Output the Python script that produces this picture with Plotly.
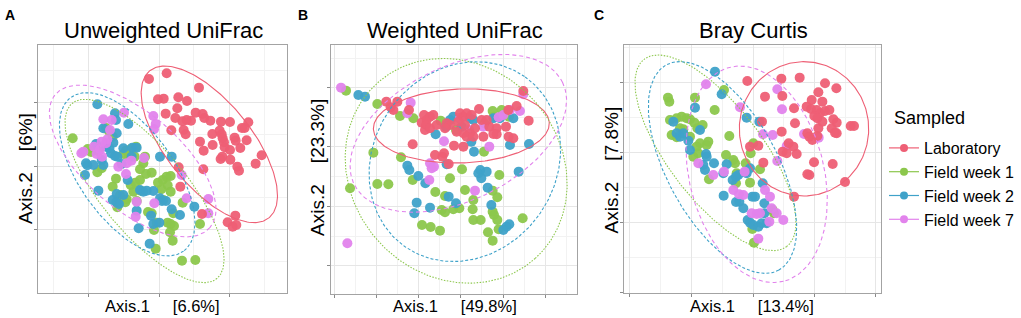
import numpy as np
import plotly.graph_objects as go

# ---------------- data (PCoA scores, panel units) ----------------
groups = ["Laboratory", "Field week 1", "Field week 2", "Field week 7"]
colors = ["#EE5F75", "#8CC74C", "#3FA2C9", "#E283EC"]
dashes = ["solid", "1.5px,1.5px", "3px,2px", "4px,3px"]

# Panel A: Unweighted UniFrac
uw_lab_x = [447,500,597,474,491,535,561,532,497,526,587,547,560,573,608,613,631,663,690,745,734,726,514,551,557,600,637,659,665,668,672,638,611,674,690,704,707,740,721,667,662,691,785,767,712,717,610,536,541,606,706,683,698,709]
uw_lab_y = [237,220,263,298,296,292,303,325,341,354,338,364,360,362,342,354,362,365,366,367,384,384,391,390,403,425,402,392,403,415,427,435,452,442,450,413,422,421,444,470,477,479,466,491,500,512,508,502,560,642,647,667,680,675]
uw_fw1_x = [218,263,273,292,318,327,338,378,392,408,370,386,435,438,430,404,406,420,422,400,380,360,474,488,500,512,503,512,484,548,444,455,470,462,503,512,522,510,518,467,546,586,600,338,348,420,455,392,295,305,376,352,410,520,490]
uw_fw1_y = [415,447,456,517,384,394,410,452,447,440,462,470,470,522,490,470,548,540,572,575,598,585,548,540,530,528,556,575,568,608,636,640,668,690,668,672,678,697,722,746,782,780,672,560,536,508,518,555,454,505,607,622,603,640,600]
uw_fw2_x = [292,345,348,385,310,350,340,288,318,333,345,370,397,258,262,255,310,352,410,383,420,430,480,515,295,338,349,357,350,370,395,480,486,410,453,460,478,416,449,540,583,515,498,440,460,280,305,328,365]
uw_fw2_y = [313,340,360,372,385,400,428,432,440,460,468,445,443,490,496,525,495,470,443,540,570,575,470,470,572,600,606,612,582,585,470,595,603,632,647,672,668,685,731,645,620,628,603,572,573,495,480,445,492]
uw_fw7_x = [335,460,310,318,322,244,290,306,380,378,432,355,250,282,300,330,410,407,463,545,560,625,625,467,462,394,305,372]
uw_fw7_y = [360,348,358,430,418,460,462,470,490,522,474,500,455,440,448,390,605,650,610,525,595,597,640,372,388,482,425,338]

# Panel B: Weighted UniFrac
wu_lab_x = [700,289,322,302,310,357,402,410,420,430,395,408,405,420,470,480,510,520,530,505,525,520,540,530,567,575,580,555,598,620,620,648,655,680,716,656,670,368,492,520,457,462,435,476,550,500,440,465,545,610,590]
wu_lab_y = [273,305,305,322,330,330,345,360,350,345,368,375,390,385,370,375,340,350,340,365,375,400,400,410,327,360,410,385,380,385,403,380,330,318,362,410,415,433,437,440,470,460,465,492,410,395,375,385,345,402,360]
wu_fw1_x = [168,262,330,370,452,498,508,608,635,657,250,333,180,262,295,368,436,465,480,516,525,550,548,582,628,608,622,455,465,490,508,550,572,608,612,622,396,422,450,594,608,626,698,583,612]
wu_fw1_y = [272,312,348,355,362,390,355,333,330,350,458,472,565,552,553,540,576,588,535,508,570,600,628,455,525,572,592,630,637,628,625,660,660,635,645,660,675,681,692,697,722,688,655,370,350]
wu_fw2_x = [205,225,352,358,385,406,380,373,420,470,476,498,437,490,515,544,552,571,574,565,590,593,604,650,658,640,686,660,717,670,610,630,540,550,480,468]
wu_fw2_y = [285,290,497,510,528,550,608,640,623,493,590,610,403,350,380,425,455,510,535,520,515,563,615,680,673,690,515,435,432,355,355,355,355,360,360,380]
wu_fw7_x = [153,362,352,420,432,425,462,598,626,640,690,700,418,555,172,538,580,510,660]
wu_fw7_y = [263,308,340,490,500,505,424,440,352,345,333,283,540,572,730,390,380,355,330]

# Panel C: Bray Curtis
bc_lab_x = [502,604,659,735,769,555,607,695,715,727,693,710,720,735,748,703,712,760,770,812,822,546,605,645,642,682,688,697,712,755,765,770,626,640,608,620,650,510,535,550,702,758,682,688,795,642,727,715,680]
bc_lab_y = [243,236,233,250,265,290,288,300,277,305,327,330,340,333,330,348,355,358,368,378,378,365,395,370,325,400,410,420,408,385,398,400,430,440,455,460,462,440,437,488,487,492,523,525,546,590,365,385,320]
bc_fw1_x = [432,264,268,345,404,270,290,305,320,330,343,352,368,310,290,275,330,360,350,380,448,438,460,465,497,540,520,512,387,468,510,582,578,517,522,340,355,300,385,470]
bc_fw1_y = [270,293,305,293,330,360,355,350,355,358,368,385,375,388,412,405,410,430,440,435,408,465,480,490,490,508,430,460,538,550,548,640,630,687,728,470,460,385,425,520]
bc_fw2_x = [405,425,345,500,538,280,290,300,310,325,330,378,380,402,370,375,430,440,458,468,475,497,500,510,431,468,478,490,517,525,548,553,503,510,520,535,545,560,553,360]
bc_fw2_y = [215,283,323,353,365,365,400,410,400,422,450,462,470,490,495,510,520,493,540,530,525,515,520,505,587,606,605,625,590,590,550,610,660,668,675,680,670,670,640,390]
bc_fw7_x = [378,592,606,480,549,578,672,716,620,592,400,355,432,494,460,477,490,515,530,540,555,570,575,568,610,535,590]
bc_fw7_y = [253,268,328,322,403,405,402,413,438,483,525,490,515,515,570,583,585,640,642,640,570,590,625,665,660,716,640]

# Ellipses per group (centre x, centre y, semi-axis a, semi-axis b, angle deg), group order
uw_ellipses = [(628, 433, 284, 128, 51), (433.5, 573, 341, 128, 50.4), (381.5, 523, 286, 140, 53.7), (398, 483, 306, 144, 40.8)]
wu_ellipses = [(514, 378, 264, 111, -2), (498.5, 512.5, 354, 315, 48), (524.5, 485, 312, 274, -54.5), (505, 400, 348, 201, -26.1)]
bc_ellipses = [(672, 386.5, 201.5, 194, 90), (406.5, 458.5, 353, 141, 52.7), (427.5, 502.5, 351, 165, 61.2), (530, 523, 331, 202, 75.9)]

titles = ["Unweighted UniFrac", "Weighted UniFrac", "Bray Curtis"]
letters = ["A", "B", "C"]
xlabels = ["Axis.1 [6.6%]", "Axis.1 [49.8%]", "Axis.1 [13.4%]"]
ylabels = ["Axis.2 [6%]", "Axis.2 [23.3%]", "Axis.2 [7.8%]"]
legend_title = "Sampled"

# ---------------- layout geometry ----------------
W, H = 1021, 318
FONT = "Liberation Sans, Arial, sans-serif"
def fx(px):
    return px / W
def fy(py):
    return 1 - py / H

panels = [
    dict(frame=(37.7, 287.3, 45.0, 293.3), xr=[113, 862], yr=[880, 135],
         xt=[265, 477, 688], xm=[159, 371, 582, 794], yt=[307, 499, 690], ym=[212, 403, 594, 786],
         data=[(uw_lab_x, uw_lab_y), (uw_fw1_x, uw_fw1_y), (uw_fw2_x, uw_fw2_y), (uw_fw7_x, uw_fw7_y)],
         ell=uw_ellipses, letter_x=10, xlab_x=162, ylab_x=25.5, ylab_y=168.5),
    dict(frame=(330.7, 577.3, 45.0, 294.3), xr=[122, 862], yr=[883, 135],
         xt=[133, 258, 385, 512, 640, 767], xm=[195, 322, 448, 576, 703, 830], yt=[263, 441, 620, 798], ym=[174, 352, 530, 709],
         data=[(wu_lab_x, wu_lab_y), (wu_fw1_x, wu_fw1_y), (wu_fw2_x, wu_fw2_y), (wu_fw7_x, wu_fw7_y)],
         ell=wu_ellipses, letter_x=302.5, xlab_x=455, ylab_x=317.5, ylab_y=167.5),
    dict(frame=(624.3, 880.7, 45.0, 293.3), xr=[133, 902], yr=[880, 135],
         xt=[150, 335, 520, 703, 887], xm=[242, 427, 611, 795], yt=[248, 458, 668, 878], ym=[143, 353, 563, 773],
         data=[(bc_lab_x, bc_lab_y), (bc_fw1_x, bc_fw1_y), (bc_fw2_x, bc_fw2_y), (bc_fw7_x, bc_fw7_y)],
         ell=bc_ellipses, letter_x=599, xlab_x=752, ylab_x=610.5, ylab_y=170),
]

fig = go.Figure()
t = np.linspace(0, 2 * np.pi, 240)
draw_order = [1, 2, 3, 0]
annotations = []

for i, p in enumerate(panels):
    sfx = "" if i == 0 else str(i + 1)
    xa, ya = "x" + sfx, "y" + sfx
    for g in draw_order:
        xs, ys = p["data"][g]
        fig.add_trace(go.Scatter(x=xs, y=ys, mode="markers", xaxis=xa, yaxis=ya,
                                 marker=dict(color=colors[g], size=10, opacity=0.95, line=dict(width=0)),
                                 showlegend=False, hoverinfo="skip"))
    for g in range(4):
        cx, cy, a, b, ang = p["ell"][g]
        th = np.deg2rad(ang)
        ex = cx + a * np.cos(t) * np.cos(th) - b * np.sin(t) * np.sin(th)
        ey = cy + a * np.cos(t) * np.sin(th) + b * np.sin(t) * np.cos(th)
        fig.add_trace(go.Scatter(x=ex, y=ey, mode="lines", xaxis=xa, yaxis=ya,
                                 line=dict(color=colors[g], width=1.1, dash=dashes[g]),
                                 showlegend=False, hoverinfo="skip"))
    x0, x1, y0, y1 = p["frame"]
    common = dict(showline=True, mirror=True, linecolor="#A3A3A3", linewidth=1,
                  zeroline=False, showticklabels=False, ticks="outside", ticklen=3,
                  tickcolor="#8A8A8A", tickwidth=1, showgrid=True, gridcolor="#E6E6E6", gridwidth=1)
    fig.layout["xaxis" + sfx] = dict(domain=[fx(x0), fx(x1)], range=p["xr"], anchor=ya,
                                     tickmode="array", tickvals=p["xt"],
                                     minor=dict(tickvals=p["xm"], showgrid=True, gridcolor="#F2F2F2", gridwidth=0.8, ticks=""),
                                     **common)
    fig.layout["yaxis" + sfx] = dict(domain=[fy(y1), fy(y0)], range=p["yr"], anchor=xa,
                                     tickmode="array", tickvals=p["yt"],
                                     minor=dict(tickvals=p["ym"], showgrid=True, gridcolor="#F2F2F2", gridwidth=0.8, ticks=""),
                                     **common)
    # title, panel letter, axis titles
    annotations.append(dict(text=titles[i], x=fx((x0 + x1) / 2 + 1), y=fy(31), xref="paper", yref="paper",
                            xanchor="center", yanchor="middle", showarrow=False,
                            font=dict(family=FONT, size=22, color="#000000")))
    annotations.append(dict(text="<b>" + letters[i] + "</b>", x=fx(p["letter_x"]), y=fy(14.5), xref="paper", yref="paper",
                            xanchor="center", yanchor="middle", showarrow=False,
                            font=dict(family=FONT, size=14, color="#000000")))
    annotations.append(dict(text=xlabels[i].replace(" ", "\u00a0" * 5), x=fx(p["xlab_x"]), y=fy(305.5), xref="paper", yref="paper",
                            xanchor="center", yanchor="middle", showarrow=False,
                            font=dict(family=FONT, size=16.5, color="#000000")))
    annotations.append(dict(text=ylabels[i].replace(" ", "\u00a0" * 4), x=fx(p["ylab_x"]), y=fy(p["ylab_y"]), xref="paper", yref="paper",
                            xanchor="center", yanchor="middle", showarrow=False, textangle=-90,
                            font=dict(family=FONT, size=19, color="#000000")))

# legend title
annotations.append(dict(text=legend_title, x=fx(891.5), y=fy(118), xref="paper", yref="paper",
                        xanchor="left", yanchor="middle", showarrow=False,
                        font=dict(family=FONT, size=18, color="#000000")))

# legend entries (point + line keys, as in the original)
for g in range(4):
    fig.add_trace(go.Scatter(x=[None], y=[None], mode="lines+markers", name=groups[g],
                             marker=dict(color=colors[g], size=8), line=dict(color=colors[g], width=1.2),
                             showlegend=True))

fig.update_layout(
    width=W, height=H, autosize=False,
    margin=dict(l=0, r=0, t=0, b=0),
    paper_bgcolor="white", plot_bgcolor="white",
    font=dict(family=FONT, color="#000000"),
    annotations=annotations,
    legend=dict(x=fx(884), y=fy(131), xanchor="left", yanchor="top",
                font=dict(family=FONT, size=16), bgcolor="rgba(0,0,0,0)", tracegroupgap=0),
)

fig.write_html("out.html", config={"displayModeBar": False},
               post_script="document.body.style.margin='0';document.body.style.overflow='hidden';")
